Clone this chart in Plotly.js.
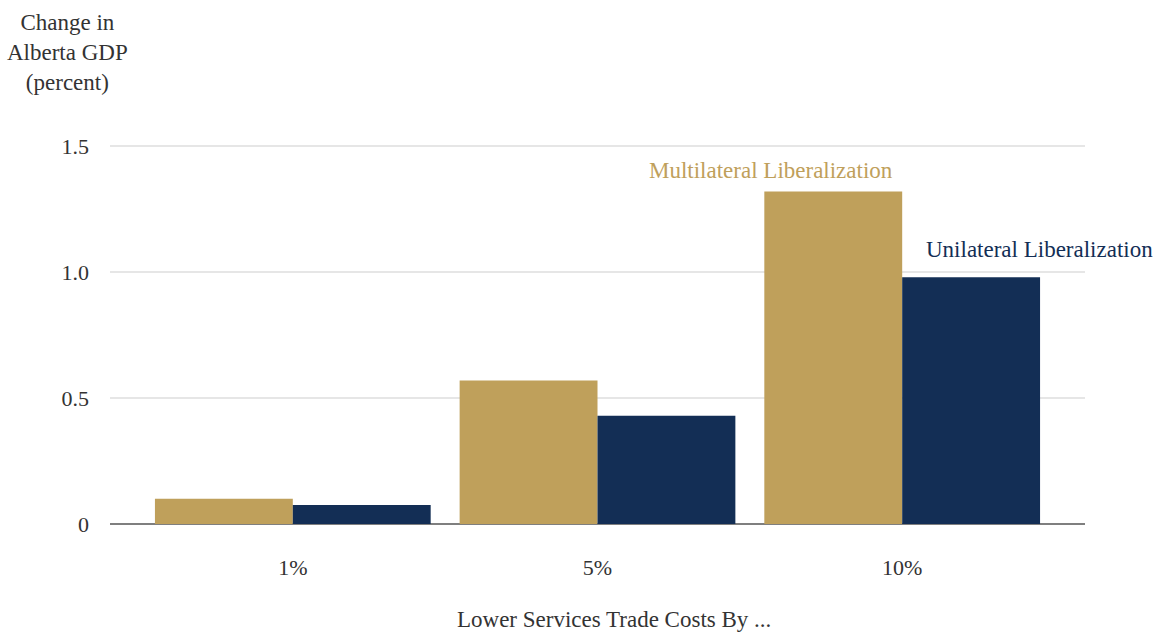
<!DOCTYPE html>
<html>
<head>
<meta charset="utf-8">
<script src="https://cdn.plot.ly/plotly-3.0.1.min.js"></script>
<style>html,body{margin:0;padding:0;background:#fff;}#chart{width:1162px;height:632px;}</style>
</head>
<body>
<div id="chart"></div>
<script>
const categories = ["1%", "5%", "10%"];
const multilateral = [0.10, 0.57, 1.32];
const unilateral = [0.075, 0.43, 0.98];
const seriesNames = ["Multilateral Liberalization", "Unilateral Liberalization"];
const yTickVals = [0, 0.5, 1.0, 1.5];
const yTickText = ["0", "0.5", "1.0", "1.5"];
const yTitle = "Change in<br>Alberta GDP<br>(percent)";
const xTitle = "Lower Services Trade Costs By ...";

const gold = "#BFA05B";
const navy = "#132E55";
const fontFam = "Liberation Serif, Times New Roman, serif";
const fs = 23;

const data = [
  {type: "bar", x: categories, y: multilateral, name: seriesNames[0], marker: {color: gold}, hoverinfo: "skip"},
  {type: "bar", x: categories, y: unilateral, name: seriesNames[1], marker: {color: navy}, hoverinfo: "skip"}
];

const layout = {
  width: 1162, height: 632,
  margin: {l: 110, r: 77, t: 121, b: 108, pad: 0},
  paper_bgcolor: "#fff", plot_bgcolor: "#fff",
  showlegend: false,
  barmode: "group",
  bargap: 0.095,
  bargroupgap: 0,
  font: {family: fontFam, size: fs, color: "#333"},
  xaxis: {
    type: "category", range: [-0.6, 2.6],
    showgrid: false, zeroline: false, showline: false,
    ticks: "", ticklabelstandoff: 28,
    tickfont: {family: fontFam, size: 22, color: "#333"}
  },
  yaxis: {
    range: [0, 1.6],
    tickvals: yTickVals, ticktext: yTickText,
    showgrid: true, gridcolor: "#e6e6e6", gridwidth: 2,
    zeroline: true, zerolinecolor: "#7f7f7f", zerolinewidth: 2,
    showline: false, ticks: "", ticklabelstandoff: 20,
    tickfont: {family: fontFam, size: 22, color: "#333"}
  },
  annotations: [
    {text: yTitle, xref: "paper", yref: "paper", x: -0.044, y: 1.171, xanchor: "center", yanchor: "middle",
     showarrow: false, align: "center", font: {family: fontFam, size: fs, color: "#333"}},
    {text: xTitle, xref: "paper", yref: "paper", x: 0.517, y: -0.236, xanchor: "center", yanchor: "middle",
     showarrow: false, font: {family: fontFam, size: fs, color: "#333"}},
    {text: seriesNames[0], xref: "paper", yref: "paper", x: 0.678, y: 0.878, xanchor: "center", yanchor: "middle",
     showarrow: false, font: {family: fontFam, size: fs, color: gold}},
    {text: seriesNames[1], xref: "paper", yref: "paper", x: 1.0, y: 0.682, xanchor: "left", yanchor: "middle", xshift: -161,
     showarrow: false, font: {family: fontFam, size: fs, color: navy}}
  ]
};

Plotly.newPlot("chart", data, layout, {staticPlot: true, displayModeBar: false});
</script>
</body>
</html>
